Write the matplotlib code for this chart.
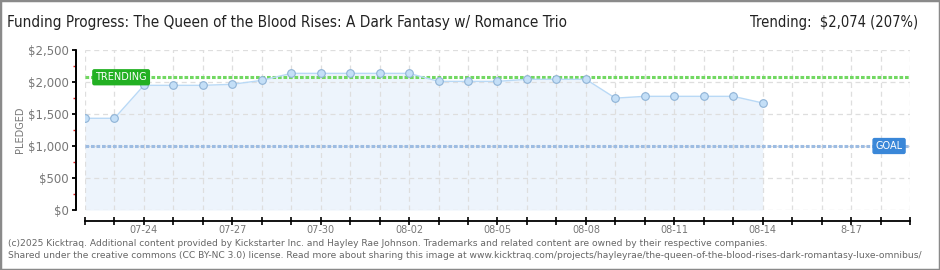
import matplotlib
matplotlib.use("Agg")
import matplotlib.pyplot as plt
from matplotlib.patches import Rectangle
from matplotlib.transforms import ScaledTranslation
import pandas as pd

# pledged totals, one per day starting 07-22
dates = pd.date_range("2025-07-22", "2025-08-14", freq="D")
pledged = [1433, 1433, 1948, 1948, 1948, 1964, 2026, 2135, 2135, 2135,
           2135, 2135, 2010, 2010, 2010, 2042, 2042, 2042, 1748, 1776,
           1776, 1776, 1776, 1672]
trending = 2074
goal = 1000
yticks = [0, 500, 1000, 1500, 2000, 2500]
ytick_labels = ["$0", "$500", "$1,000", "$1,500", "$2,000", "$2,500"]
xtick_labels = ["07-24", "07-27", "07-30", "08-02", "08-05", "08-08", "08-11", "08-14", "8-17"]
n_days = 28  # axis runs 07-22 .. 08-19

title = "Funding Progress: The Queen of the Blood Rises: A Dark Fantasy w/ Romance Trio"
footer1 = ("(c)2025 Kicktraq. Additional content provided by Kickstarter Inc. and Hayley Rae Johnson. "
           "Trademarks and related content are owned by their respective companies.")
footer2 = ("Shared under the creative commons (CC BY-NC 3.0) license. Read more about sharing this image at "
           "www.kicktraq.com/projects/hayleyrae/the-queen-of-the-blood-rises-dark-romantasy-luxe-omnibus/")

W, H = 940, 270
PX = 72 / 100  # points per pixel
fig = plt.figure(figsize=(W / 100, H / 100), dpi=100)
fig.patch.set_facecolor("white")
fig.patches.append(Rectangle((0, 0), 1, 1, transform=fig.transFigure, fill=False,
                             edgecolor="#8a8a8a", linewidth=2.5))

ax = fig.add_axes([85 / W, (H - 210) / H, (910 - 85) / W, 160 / H])
x = list(range(len(pledged)))

ax.fill_between(x, pledged, 0, color="#edf4fc", zorder=0.2, linewidth=0)
ax.plot(x, pledged, color="#b9d9f6", linewidth=1, zorder=3)
ax.plot(x, pledged, linestyle="none", marker="o", markersize=5.5,
        markerfacecolor="#c4dff7", markeredgecolor="#8fb3d6", markeredgewidth=0.8, zorder=4)

ax.axhline(trending, color="#72d862", linewidth=2.2, linestyle=(0, (1.2, 0.6)), zorder=2)
ax.axhline(goal, color="#9dbce2", linewidth=2.2, linestyle=(0, (1.2, 0.6)), zorder=2)

ax.set_xlim(0, n_days)
ax.set_ylim(0, 2500)
ax.set_xticks(range(0, n_days + 1))
labels = [""] * (n_days + 1)
for i, lab in enumerate(xtick_labels):
    labels[2 + 3 * i] = lab
ax.set_xticklabels(labels)
ax.set_yticks(yticks)
ax.set_yticklabels(ytick_labels)
ax.set_yticks([250, 750, 1250, 1750, 2250], minor=True)

ax.grid(True, color="#dedede", linestyle=(0, (4, 3)), linewidth=0.9)
for gl in ax.get_xgridlines() + ax.get_ygridlines():
    gl.set_zorder(0.5)

for s in ["top", "right"]:
    ax.spines[s].set_visible(False)
for s in ["left", "bottom"]:
    ax.spines[s].set_linewidth(1.3)
    ax.spines[s].set_color("black")
ax.spines["left"].set_position(("outward", 9.5 * PX))
ax.spines["bottom"].set_position(("outward", 10.5 * PX))

# left axis line drawn once more, shifted left like the spine
shift = ScaledTranslation(-9.5 / 100, 0, fig.dpi_scale_trans)
ax.plot([0, 0], [0, 1], transform=ax.transAxes + shift, color="black",
        linewidth=1.3, clip_on=False, zorder=6, solid_capstyle="butt")

ax.tick_params(axis="y", which="major", length=4 * PX, width=1.3, color="black",
               labelcolor="#777777", labelsize=8.5, pad=2)
ax.tick_params(axis="y", which="minor", length=3 * PX, width=1, color="#e02020")
ax.tick_params(axis="x", which="major", direction="inout", length=6, width=1.2,
               color="black", labelcolor="#777777", labelsize=7, pad=0)

ax.set_ylabel("PLEDGED", fontsize=7, color="#777777", labelpad=2)

# labels on reference lines
ax.text(0.35, trending, "TRENDING", fontsize=7, color="white", ha="left", va="center", zorder=7,
        bbox=dict(boxstyle="round,pad=0.25,rounding_size=0.15", facecolor="#22b022",
                  edgecolor="#22b022"))
ax.text(27.75, goal, "GOAL", fontsize=7, color="white", ha="right", va="center", zorder=7,
        bbox=dict(boxstyle="round,pad=0.25,rounding_size=0.15", facecolor="#3a87d8",
                  edgecolor="#3a87d8"))

fig.text(7 / W, 1 - 22 / H, title, fontsize=11, color="#222222", ha="left", va="center",
         family="DejaVu Sans", fontstretch="condensed")
fig.text(918 / W, 1 - 22 / H, "Trending:  $2,074 (207%)", fontsize=10.5, color="#222222",
         ha="right", va="center", family="DejaVu Sans", fontstretch="condensed")
fig.text(8 / W, 1 - 243 / H, footer1, fontsize=6.6, color="#666666", ha="left", va="center")
fig.text(8 / W, 1 - 256 / H, footer2, fontsize=6.6, color="#666666", ha="left", va="center")

fig.savefig("out.png", dpi=100)
